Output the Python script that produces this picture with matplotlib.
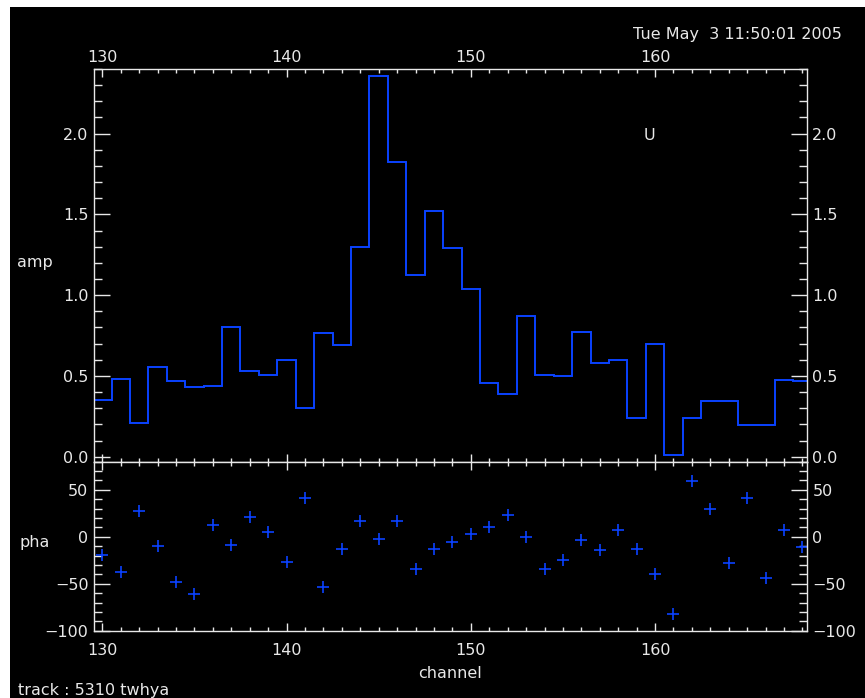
import numpy as np
import matplotlib
matplotlib.use("Agg")
from matplotlib import pyplot as plt
from matplotlib.patches import Rectangle
from matplotlib.ticker import MultipleLocator, FormatStrFormatter

plt.rcParams['font.family'] = ['Liberation Sans Narrow', 'DejaVu Sans']

channels = np.arange(130, 169)
amp = [0.35, 0.48, 0.21, 0.555, 0.47, 0.43, 0.44, 0.80, 0.53, 0.505,
       0.596, 0.30, 0.763, 0.689, 1.30, 2.354, 1.824, 1.124, 1.524, 1.289,
       1.039, 0.456, 0.39, 0.872, 0.505, 0.497, 0.771, 0.579, 0.596, 0.237,
       0.697, 0.012, 0.237, 0.346, 0.346, 0.196, 0.196, 0.472, 0.466]
pha = [-19.9, -37.1, 27.9, -10.2, -48.3, -61.2, 12.6, -8.8, 21.0, 5.6,
       -27.3, 40.9, -53.9, -13.0, 16.4, -1.8, 16.8, -34.3, -13.0, -6.0,
       2.7, 10.1, 22.7, 0.0, -34.3, -25.2, -3.9, -14.0, 7.3, -12.6,
       -39.5, -82.2, 59.4, 29.4, -28.3, 40.9, -43.4, 6.9, -10.5]

W, H = 865, 698
fg = '#e8e8e8'
blue = '#0a42ff'
fs = 11.5

fig = plt.figure(figsize=(W / 100, H / 100), dpi=100, facecolor='white')
# black plotting area (white strip at top and left in the original)
fig.patches.append(Rectangle((10 / W, 0), 1, 1 - 7 / H, transform=fig.transFigure,
                             facecolor='black', edgecolor='none', zorder=-10))

left, right = 94 / W, 806.7 / W
top_amp, mid, bot = 1 - 69 / H, 1 - 461.7 / H, 1 - 630.7 / H
ax1 = fig.add_axes([left, mid, right - left, top_amp - mid])
ax2 = fig.add_axes([left, bot, right - left, mid - bot])


def style(ax, ymaj, ymin):
    ax.set_facecolor('black')
    for s in ax.spines.values():
        s.set_color(fg)
        s.set_linewidth(1.0)
    ax.set_xlim(129.55, 168.23)
    ax.xaxis.set_major_locator(MultipleLocator(10))
    ax.xaxis.set_minor_locator(MultipleLocator(1))
    ax.yaxis.set_major_locator(MultipleLocator(ymaj))
    ax.yaxis.set_minor_locator(MultipleLocator(ymin))
    ax.tick_params(which='both', direction='in', colors=fg, labelsize=fs,
                   top=True, bottom=True, left=True, right=True,
                   labelleft=True, labelright=True, width=1.0)
    ax.tick_params(axis='x', which='major', length=5.8)
    ax.tick_params(axis='x', which='minor', length=3)
    ax.tick_params(axis='y', which='major', length=11.5, pad=4)
    ax.tick_params(axis='y', which='minor', length=5.8)


style(ax1, 0.5, 0.1)
ax1.stairs(amp, np.append(channels - 0.5, channels[-1] + 0.5), baseline=None,
           color=blue, linewidth=1.4)
ax1.set_ylim(-0.031, 2.4)
ax1.yaxis.set_major_formatter(FormatStrFormatter('%.1f'))
ax1.tick_params(axis='x', labelbottom=False, labeltop=True, pad=3)
ax1.text(649 / W, 1 - 136 / H, 'U', transform=fig.transFigure, color=fg,
         fontsize=fs, ha='center', va='center')

style(ax2, 50, 10)
ax2.plot(channels, pha, linestyle='none', marker='+', markersize=9,
         markeredgewidth=1.2, color=blue)
ax2.set_ylim(-100, 80)
ax2.tick_params(axis='x', labelbottom=True, labeltop=False, pad=9)

fig.text(35 / W, 1 - 262 / H, 'amp', color=fg, fontsize=fs, ha='center', va='center')
fig.text(35 / W, 1 - 543 / H, 'pha', color=fg, fontsize=fs, ha='center', va='center')
fig.text(450 / W, 1 - 673 / H, 'channel', color=fg, fontsize=fs, ha='center', va='center')
fig.text(18 / W, 1 - 690 / H, 'track : 5310 twhya', color=fg, fontsize=fs,
         ha='left', va='center')
fig.text(842 / W, 1 - 34 / H, 'Tue May  3 11:50:01 2005', color=fg, fontsize=fs,
         ha='right', va='center')

fig.savefig('out.png', dpi=100, facecolor='white')
